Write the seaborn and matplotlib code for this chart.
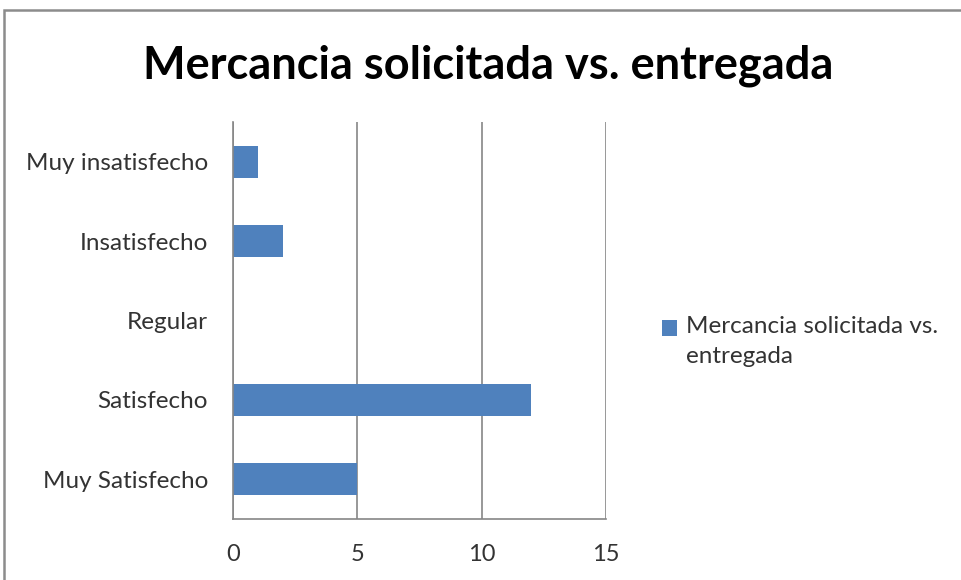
import numpy as np
import pandas as pd
import matplotlib
matplotlib.use("Agg")
import matplotlib.pyplot as plt
from matplotlib.patches import Rectangle
import seaborn as sns

categorias = ["Muy insatisfecho", "Insatisfecho", "Regular", "Satisfecho", "Muy Satisfecho"]
valores = [1, 2, 0, 12, 5]
serie = "Mercancia solicitada vs.\nentregada"
titulo = "Mercancia solicitada vs. entregada"
xticks = [0, 5, 10, 15]

sns.set_theme(style="white")
plt.rcParams["font.family"] = ["Lato", "DejaVu Sans"]

df = pd.DataFrame({"categoria": categorias, "valor": valores, "serie": serie})

fig = plt.figure(figsize=(9.62, 5.8), dpi=100)
ax = fig.add_axes([233 / 962, 1 - 519 / 580, (606 - 233) / 962, (519 - 122) / 580])

sns.barplot(data=df, x="valor", y="categoria", hue="serie", order=categorias,
            palette=["#4F81BD"], width=0.4, orient="h", ax=ax,
            saturation=1, edgecolor="none", dodge=False)

grey = "#868686"
txt = "#333333"
ax.set_xlim(0, 15)
ax.set_ylim(4.5, -0.5)
ax.set_xticks(xticks)
ax.set_xticklabels([str(t) for t in xticks], fontsize=17, color=txt)
ax.tick_params(axis="x", length=8, width=1.2, color=grey, direction="out", pad=10)

# category boundaries carry the tick marks, centers carry the labels
ax.set_yticks(np.arange(-0.5, len(categorias)), minor=False)
ax.set_yticklabels([""] * (len(categorias) + 1))
ax.set_yticks(np.arange(len(categorias)), minor=True)
ax.set_yticklabels(categorias, minor=True, fontsize=17.5, color=txt)
ax.tick_params(axis="y", which="major", length=8, width=1.2, color=grey, direction="out")
ax.tick_params(axis="y", which="minor", length=0, pad=18)

ax.grid(axis="x", color=grey, linewidth=1.2)
ax.set_axisbelow(True)
for s in ["top", "right"]:
    ax.spines[s].set_visible(False)
for s in ["left", "bottom"]:
    ax.spines[s].set_color(grey)
    ax.spines[s].set_linewidth(1.2)
ax.set_xlabel("")
ax.set_ylabel("")

leg = ax.legend(loc="upper left", bbox_to_anchor=(662 / 962, 1 - 316 / 580),
                bbox_transform=fig.transFigure, frameon=False, fontsize=17.5,
                borderpad=0, borderaxespad=0,
                handlelength=0.62, handleheight=0.62, handletextpad=0.35,
                labelcolor=txt)
for t in leg.get_texts():
    t.set_linespacing(1.55)
# keep the swatch level with the first line of the wrapped label
h = leg.legend_handles[0]
h.set_y(h.get_y() + 10)

fig.text(488 / 962, 1 - 66 / 580, titulo, ha="center", va="center",
         fontsize=32.5, fontweight="bold", color="black")

fig.patches.append(Rectangle((4 / 962, -0.1), 1.2, 1 - 10 / 580 + 0.1,
                             transform=fig.transFigure, fill=False,
                             edgecolor="#8c8c8c", linewidth=1.8))

fig.savefig("out.png", dpi=100)
